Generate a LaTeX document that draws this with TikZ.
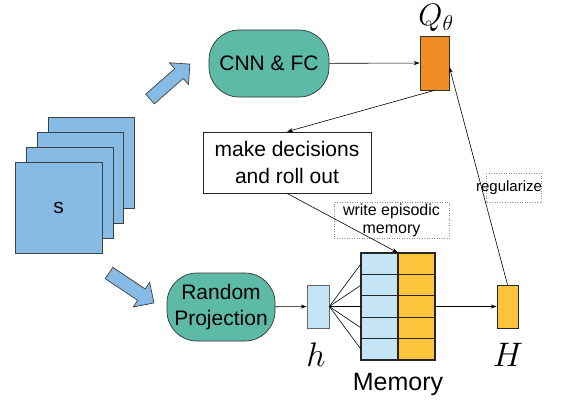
\RequirePackage{fix-cm}
\documentclass[tikz,border=0pt]{standalone}
\usepackage{fontspec}
\setmainfont{Liberation Sans}
\usetikzlibrary{arrows.meta}
\definecolor{framecol}{RGB}{133,187,229}
\definecolor{tealc}{RGB}{92,186,166}
\definecolor{orangeq}{RGB}{240,140,36}
\definecolor{yelc}{RGB}{252,196,58}
\definecolor{lbluec}{RGB}{197,228,245}
\begin{document}
\begin{tikzpicture}[x=1pt,y=-1pt,
  conn/.style={-{Stealth[length=6pt,width=4pt]}, line width=0.6pt},
  pill/.style={draw=black!80, fill=tealc, rounded corners=30pt, line width=0.7pt, align=center, font=\fontsize{21}{26}\selectfont},
  frame/.style={draw=black!75, fill=framecol, line width=0.7pt},
  blockarrow/.style={draw=black!75, fill=framecol, line width=0.7pt},
  cell/.style={draw=black!85, line width=1.2pt},
  bigmath/.style={font=\fontsize{34}{34}\selectfont, inner sep=0pt},
  dotbox/.style={draw=black!45, dotted, line width=0.5pt}]
\useasboundingbox (0,0) rectangle (564,404);
% stacked frames
\draw[frame] (48,117) rectangle (134,208);
\draw[frame] (37,132) rectangle (123,223);
\draw[frame] (26,147) rectangle (113,238);
\node[frame, minimum width=87pt, minimum height=91pt, inner sep=0pt, font=\fontsize{21}{26}\selectfont] (s) at (58.5,207.5) {s};
% block arrows
\begin{scope}[shift={(150,99)}, rotate=41.2]
\draw[blockarrow] (0,-6.5) -- (38.5,-6.5) -- (38.5,-14.5) -- (53,0) -- (38.5,14.5) -- (38.5,6.5) -- (0,6.5) -- cycle;
\end{scope}
\begin{scope}[shift={(109,273)}, rotate=-33.7]
\draw[blockarrow] (0,-6.8) -- (39,-6.8) -- (39,-14.8) -- (54,0) -- (39,14.8) -- (39,6.8) -- (0,6.8) -- cycle;
\end{scope}
% upper path
\node[pill, minimum width=120pt, minimum height=67pt] (cnn) at (269,63.5) {CNN \& FC};
\node[draw=black!80, fill=orangeq, minimum width=29pt, minimum height=54pt, inner sep=0pt, line width=0.7pt] (q) at (434.5,63) {};
\node[font=\fontsize{31}{31}\selectfont, inner sep=0pt] (ql) at (436,18) {$Q_\theta$};
\node[draw=black!85, line width=0.7pt, minimum width=168pt, minimum height=61pt, align=center, font=\fontsize{21}{27}\selectfont] (dec) at (287,162.5) {make decisions\\and roll out};
% lower path
\node[pill, minimum width=108pt, minimum height=68pt, inner sep=0pt] (rp) at (221,307) {Random\\Projection};
\node[draw=black!60, fill=lbluec, minimum width=22pt, minimum height=43pt, inner sep=0pt, line width=0.7pt] (h) at (318,306.5) {};
\node[bigmath] (hl) at (316,355) {$h$};
% memory grid
\foreach \i in {0,...,4} {
  \draw[cell, fill=lbluec] (361,{253+\i*21.4}) rectangle (398,{253+(\i+1)*21.4});
  \draw[cell, fill=yelc] (398,{253+\i*21.4}) rectangle (435,{253+(\i+1)*21.4});
}
\node[minimum width=74pt, minimum height=107pt, inner sep=0pt] (mem) at (398,306.5) {};
\node[font=\fontsize{25}{25}\selectfont] (meml) at (398,384) {Memory};
\node[draw=black!85, fill=yelc, minimum width=21pt, minimum height=43pt, inner sep=0pt, line width=0.7pt] (H) at (507.5,306.5) {};
\node[bigmath] (Hl) at (508,355) {$H$};
% labels
\node[dotbox, minimum width=115pt, minimum height=36pt, inner sep=0pt, align=center, font=\fontsize{16}{18}\selectfont] (wem) at (391.5,220) {write episodic\\memory};
\draw[dotbox] (486,173) rectangle (541,202);
\node[font=\fontsize{15}{15}\selectfont, inner sep=0pt] (reg) at (509,188) {regularize};
% connectors
\draw[conn] (cnn) -- (q);
\draw[conn] (q.south) -- (dec.north);
\draw[conn] (dec.south) -- (mem.north);
\draw[conn] (rp) -- (h);
\foreach \i in {0,...,4} {
  \draw[line width=0.6pt] (h.east) -- (361,{253+(\i+0.5)*21.4});
}
\draw[conn] (mem.east) -- (H.west);
\draw[conn] (H.north) -- ([yshift=-4pt]q.east);
\end{tikzpicture}
\end{document}
